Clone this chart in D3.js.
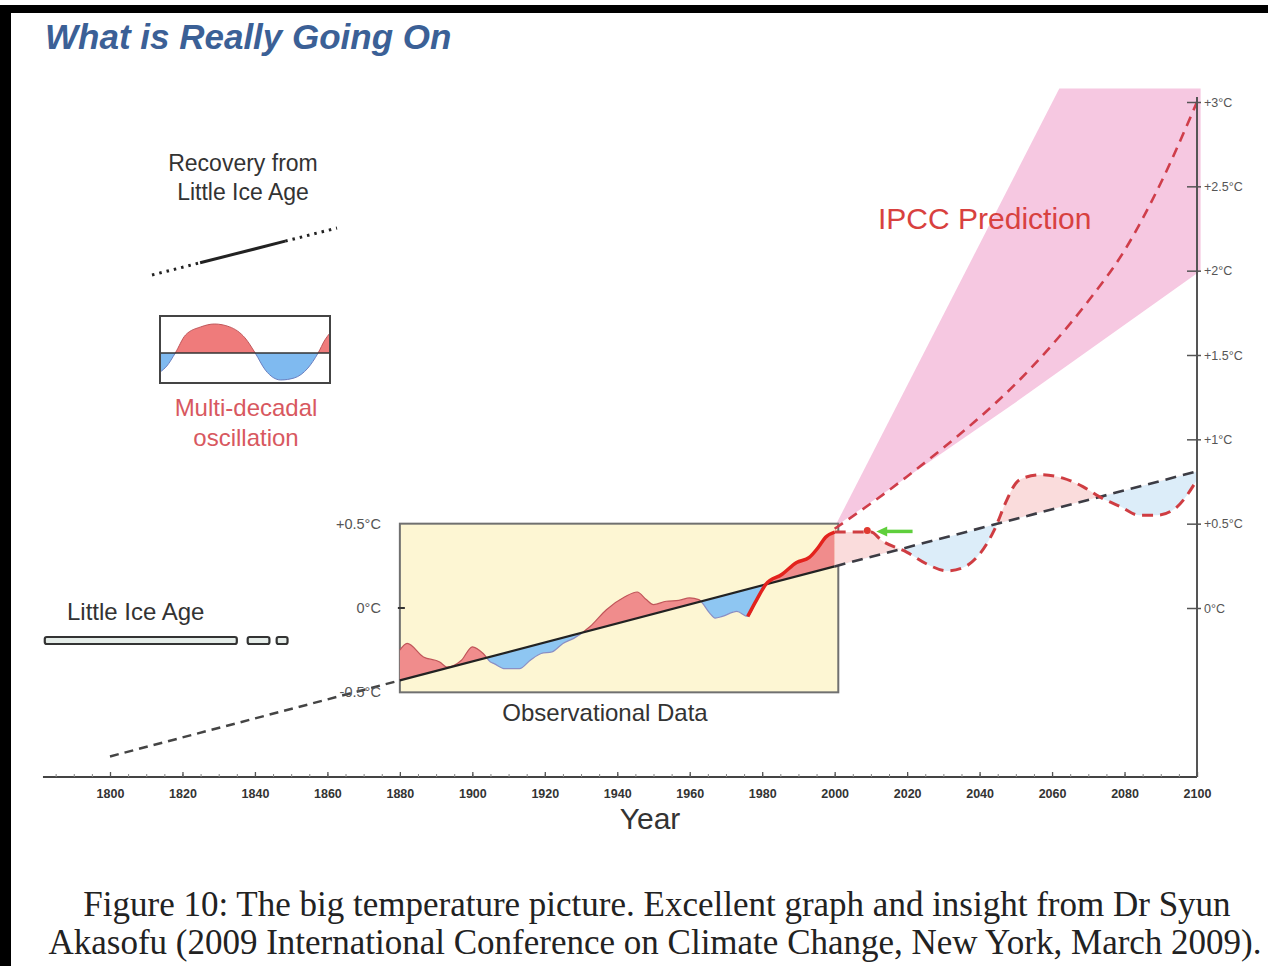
<!DOCTYPE html>
<html><head><meta charset="utf-8">
<script src="https://cdn.jsdelivr.net/npm/d3@7"></script>
<style>body{margin:0;background:#fff} svg{display:block}</style>
</head><body><svg id="c" width="1268" height="966"></svg>
<script>
// ---------------- DATA ----------------
const xTickYears = [1800,1820,1840,1860,1880,1900,1920,1940,1960,1980,2000,2020,2040,2060,2080,2100];
const rightTickValues = [0,0.5,1,1.5,2,2.5,3];
const rightTickLabels = ["0°C","+0.5°C","+1°C","+1.5°C","+2°C","+2.5°C","+3°C"];
const insetTickValues = [-0.5,0,0.5];
const insetTickLabels = ["-0.5°C","0°C","+0.5°C"];

// linear "recovery from Little Ice Age" trend
const trendYears = [1800, 2100];
const trendValues = [-0.88, 0.81];

// observational data (deg C)
const obsYears = [1880,1882,1886.5,1891,1893,1897,1900,1903,1905,1906,1909,1913,1916,1919,1922,1925,1928,1932.5,1937,1942,1945.5,1948,1950,1953.5,1957,1960,1962.5,1965.5,1967,1969,1973,1976,1978.5,1981,1985.5,1989.5,1993,1995.5,1997.5,2000];
const obsValues = [-0.25,-0.21,-0.29,-0.32,-0.35,-0.31,-0.23,-0.27,-0.32,-0.33,-0.36,-0.36,-0.31,-0.27,-0.26,-0.21,-0.18,-0.11,-0.01,0.065,0.095,0.05,0.02,0.04,0.045,0.06,0.05,-0.03,-0.06,-0.05,-0.02,-0.05,0.05,0.14,0.20,0.27,0.30,0.36,0.42,0.45];
const recentFromYear = 1975.5;
const latestObsYear = 2009;
const latestObsValue = 0.46;

// multi-decadal oscillation projection
const fcYears = [2000,2005,2010,2013,2020,2025.5,2031,2035.5,2040,2044,2047.5,2050,2052,2057,2063,2068.5,2073,2079,2084,2089,2094.5,2100];
const fcValues = [0.45,0.45,0.45,0.40,0.33,0.26,0.22,0.24,0.32,0.46,0.64,0.74,0.77,0.79,0.77,0.72,0.66,0.60,0.55,0.55,0.60,0.76];

// IPCC prediction
const ipccMidYears = [2000,2010,2020,2030,2040,2050,2060,2070,2080,2090,2100];
const ipccMidValues = [0.47,0.62,0.78,0.95,1.13,1.33,1.56,1.82,2.12,2.52,3.0];
const ipccUpperYears = [2000,2062,2101];
const ipccUpperValues = [0.48,3.08,3.08];
const ipccLowerYears = [2000,2050,2101];
const ipccLowerValues = [0.48,1.22,2.0];

// Little Ice Age bars (years)
const liaStarts = [1782,1838,1846];
const liaEnds = [1835,1844,1849];

// multi-decadal oscillation legend icon (normalised)
const oscX = [0,0.04,0.09,0.15,0.24,0.32,0.41,0.5,0.56,0.62,0.71,0.79,0.87,0.93,0.97,1];
const oscV = [-0.66,-0.45,0,0.62,0.9,1.0,0.9,0.52,0,-0.59,-0.93,-0.86,-0.52,0,0.45,0.69];

// ---------------- DRAW ----------------
const SANS = "Liberation Sans, Arial, sans-serif";
const svg = d3.select("#c");
const x = d3.scaleLinear().domain([1800,2100]).range([110,1197]);
const y = d3.scaleLinear().domain([0,3]).range([608,102]);
const trendAt = d3.scaleLinear().domain(trendYears).range(trendValues);

const obs = obsYears.map((yr,i)=>({yr, v:obsValues[i]}));
const fc = fcYears.map((yr,i)=>({yr, v:fcValues[i]}));
const zip = (a,b)=>a.map((yr,i)=>({yr, v:b[i]}));

// frame
svg.append("rect").attr("x",0).attr("y",0).attr("width",1268).attr("height",966).attr("fill","#fff");
svg.append("rect").attr("x",0).attr("y",5).attr("width",1268).attr("height",8).attr("fill","#000");
svg.append("rect").attr("x",0).attr("y",5).attr("width",11).attr("height",961).attr("fill","#000");

// title
svg.append("text").attr("x",45).attr("y",49).text("What is Really Going On")
  .attr("font-family",SANS).attr("font-weight","bold").attr("font-style","italic")
  .attr("font-size",35).attr("fill","#3b6096");

// clip paths above / below trend
const defs = svg.append("defs");
const tl = x(1770), tr = x(2110);
defs.append("clipPath").attr("id","above").append("path")
  .attr("d",`M${tl},${y(trendAt(1770))}L${tr},${y(trendAt(2110))}L${tr},0L${tl},0Z`);
defs.append("clipPath").attr("id","below").append("path")
  .attr("d",`M${tl},${y(trendAt(1770))}L${tr},${y(trendAt(2110))}L${tr},966L${tl},966Z`);

// IPCC band
const band = ipccUpperYears.map((yr,i)=>[x(yr), y(ipccUpperValues[i])]);
const lowPts = ipccLowerYears.map((yr,i)=>[x(yr), y(ipccLowerValues[i])]).reverse();
svg.append("path").attr("d", d3.line()(band.concat(lowPts))+"Z").attr("fill","#f6c8e1");

// observational box
svg.append("rect").attr("x",x(1880)).attr("y",y(0.5))
  .attr("width",x(2001)-x(1880)).attr("height",y(-0.5)-y(0.5))
  .attr("fill","#fdf6d3").attr("stroke","#707070").attr("stroke-width",2);

// deviation areas
const dev = d3.area().x(d=>x(d.yr)).y0(d=>y(trendAt(d.yr))).y1(d=>y(d.v)).curve(d3.curveMonotoneX);
const devLine = d3.line().x(d=>x(d.yr)).y(d=>y(d.v)).curve(d3.curveMonotoneX);
svg.append("path").attr("d",dev(obs)).attr("fill","#f08c8c").attr("clip-path","url(#above)");
svg.append("path").attr("d",dev(obs)).attr("fill","#8ec6f2").attr("clip-path","url(#below)");
svg.append("path").attr("d",devLine(obs)).attr("fill","none").attr("stroke","#c0565a").attr("stroke-width",1.2).attr("clip-path","url(#above)");
svg.append("path").attr("d",devLine(obs)).attr("fill","none").attr("stroke","#8a8fc4").attr("stroke-width",1.2).attr("clip-path","url(#below)");

// forecast areas
svg.append("path").attr("d",dev(fc)).attr("fill","#fadcdc").attr("clip-path","url(#above)");
svg.append("path").attr("d",dev(fc)).attr("fill","#dcedf9").attr("clip-path","url(#below)");

// trend line
const tline = d3.line().x(d=>x(d.yr)).y(d=>y(d.v));
const tpts = (a,b)=>[{yr:a,v:trendAt(a)},{yr:b,v:trendAt(b)}];
svg.append("path").attr("d",tline(tpts(1800,1880))).attr("stroke","#444").attr("stroke-width",2.5).attr("stroke-dasharray","9,6").attr("fill","none");
svg.append("path").attr("d",tline(tpts(1880,2000))).attr("stroke","#222").attr("stroke-width",2.2).attr("fill","none");
svg.append("path").attr("d",tline(tpts(2000,2100))).attr("stroke","#3c3c44").attr("stroke-width",2.6).attr("stroke-dasharray","11,7").attr("fill","none");

// recent observed (thick red)
svg.append("path").attr("d",devLine(obs.filter(d=>d.yr>=recentFromYear))).attr("fill","none").attr("stroke","#e3231d").attr("stroke-width",3.5);

// forecast dashed
svg.append("path").attr("d",devLine(fc)).attr("fill","none").attr("stroke","#cf3d42").attr("stroke-width",3).attr("stroke-dasharray","11,7");

// IPCC mid dashed
svg.append("path").attr("d",d3.line().x(d=>x(d.yr)).y(d=>y(d.v)).curve(d3.curveMonotoneX)(zip(ipccMidYears,ipccMidValues)))
  .attr("fill","none").attr("stroke","#cf3d4a").attr("stroke-width",2.6).attr("stroke-dasharray","10,7");

// latest obs marker + green arrow
svg.append("circle").attr("cx",x(latestObsYear)).attr("cy",y(latestObsValue)).attr("r",3.5).attr("fill","#e03a30");
const ay = y(latestObsValue)+1;
svg.append("line").attr("x1",x(latestObsYear+4)).attr("x2",x(latestObsYear+12.5)).attr("y1",ay).attr("y2",ay)
  .attr("stroke","#5fcf3c").attr("stroke-width",3.5);
svg.append("path").attr("d",`M${x(latestObsYear+2.5)},${ay}L${x(latestObsYear+5.5)},${ay-5}L${x(latestObsYear+5.5)},${ay+5}Z`).attr("fill","#5fcf3c");

// bottom axis
const axY = 777;
svg.append("line").attr("x1",x(1781.5)).attr("x2",x(2100)).attr("y1",axY).attr("y2",axY).attr("stroke","#444").attr("stroke-width",2.2);
const minor = svg.append("g").attr("transform",`translate(0,${axY})`)
  .call(d3.axisBottom(x).tickValues(d3.range(1785,2100,5)).tickSize(-3).tickFormat(""));
minor.select(".domain").remove();
minor.selectAll("line").attr("stroke","#888");
const major = svg.append("g").attr("transform",`translate(0,${axY})`)
  .call(d3.axisBottom(x).tickValues(xTickYears).tickSize(-5).tickPadding(12).tickFormat(d3.format("d")));
major.select(".domain").remove();
major.selectAll("line").attr("stroke","#555").attr("stroke-width",1.3);
major.selectAll("text").attr("font-family",SANS).attr("font-size",12.5).attr("font-weight","bold").attr("fill","#333");
svg.append("text").attr("x",650).attr("y",829).attr("text-anchor","middle").text("Year")
  .attr("font-family",SANS).attr("font-size",30).attr("fill","#333");

// right axis
const ax = x(2100);
svg.append("line").attr("x1",ax).attr("x2",ax).attr("y1",97).attr("y2",axY).attr("stroke","#555").attr("stroke-width",2);
const ra = svg.append("g").attr("transform",`translate(${ax},0)`)
  .call(d3.axisRight(y).tickValues(rightTickValues).tickSize(4).tickPadding(3).tickFormat((d,i)=>rightTickLabels[i]));
ra.select(".domain").remove();
ra.selectAll("line").attr("stroke","#555").attr("stroke-width",1.5).attr("x1",-10);
ra.selectAll("text").attr("font-family",SANS).attr("font-size",12.5).attr("fill","#555");

// inset left axis
const ia = svg.append("g").attr("transform",`translate(${x(1880)},0)`)
  .call(d3.axisLeft(y).tickValues(insetTickValues).tickSize(0).tickPadding(19).tickFormat((d,i)=>insetTickLabels[i]));
ia.select(".domain").remove();
ia.selectAll("text").attr("font-family",SANS).attr("font-size",14.5).attr("fill","#555");
svg.append("line").attr("x1",x(1880)-2).attr("x2",x(1880)+5).attr("y1",y(0)).attr("y2",y(0)).attr("stroke","#333").attr("stroke-width",2);
svg.append("text").attr("x",605).attr("y",721).attr("text-anchor","middle").text("Observational Data")
  .attr("font-family",SANS).attr("font-size",24).attr("fill","#333");

// IPCC label
svg.append("text").attr("x",878).attr("y",229).text("IPCC Prediction")
  .attr("font-family",SANS).attr("font-size",30).attr("fill","#d8413f");

// Little Ice Age
svg.append("text").attr("x",67).attr("y",620).text("Little Ice Age")
  .attr("font-family",SANS).attr("font-size",24).attr("fill","#333");
liaStarts.forEach((s,i)=>{
  svg.append("rect").attr("x",x(s)).attr("y",637).attr("width",x(liaEnds[i])-x(s)).attr("height",7).attr("rx",2)
    .attr("fill","#e4ece8").attr("stroke","#333").attr("stroke-width",2.2);
});

// Recovery legend
const lg = svg.append("g").attr("font-family",SANS).attr("font-size",23).attr("fill","#333").attr("text-anchor","middle");
lg.append("text").attr("x",243).attr("y",171).text("Recovery from");
lg.append("text").attr("x",243).attr("y",200).text("Little  Ice Age");
const lx = d3.scaleLinear().domain([0,1]).range([152,337]);
const ly = d3.scaleLinear().domain([0,1]).range([275,228]);
[[0,0.26,"2.5,5",3],[0.26,0.72,null,3],[0.72,1,"2.5,5",3]].forEach(s=>{
  const l = svg.append("line").attr("x1",lx(s[0])).attr("y1",ly(s[0])).attr("x2",lx(s[1])).attr("y2",ly(s[1]))
    .attr("stroke","#222").attr("stroke-width",s[3]);
  if(s[2]) l.attr("stroke-dasharray",s[2]);
});

// oscillation icon
const ox = d3.scaleLinear().domain([0,1]).range([160,330]);
const oy = d3.scaleLinear().domain([-1,1]).range([382,324]);
const osc = oscX.map((t,i)=>({t, v:oscV[i]}));
defs.append("clipPath").attr("id","oscUp").append("rect").attr("x",160).attr("y",316).attr("width",170).attr("height",oy(0)-316);
defs.append("clipPath").attr("id","oscDn").append("rect").attr("x",160).attr("y",oy(0)).attr("width",170).attr("height",383-oy(0));
const oa = d3.area().x(d=>ox(d.t)).y0(oy(0)).y1(d=>oy(d.v)).curve(d3.curveMonotoneX);
const ol = d3.line().x(d=>ox(d.t)).y(d=>oy(d.v)).curve(d3.curveMonotoneX);
svg.append("rect").attr("x",160).attr("y",316).attr("width",170).attr("height",67).attr("fill","#fff");
svg.append("path").attr("d",oa(osc)).attr("fill","#ef7b7b").attr("clip-path","url(#oscUp)");
svg.append("path").attr("d",oa(osc)).attr("fill","#7fbaf0").attr("clip-path","url(#oscDn)");
svg.append("path").attr("d",ol(osc)).attr("fill","none").attr("stroke","#c0565a").attr("stroke-width",1).attr("clip-path","url(#oscUp)");
svg.append("path").attr("d",ol(osc)).attr("fill","none").attr("stroke","#6a7fc0").attr("stroke-width",1).attr("clip-path","url(#oscDn)");
svg.append("line").attr("x1",160).attr("x2",330).attr("y1",oy(0)).attr("y2",oy(0)).attr("stroke","#333").attr("stroke-width",1.5);
svg.append("rect").attr("x",160).attr("y",316).attr("width",170).attr("height",67).attr("fill","none").attr("stroke","#444").attr("stroke-width",2);
const mg = svg.append("g").attr("font-family",SANS).attr("font-size",24).attr("fill","#d85860").attr("text-anchor","middle");
mg.append("text").attr("x",246).attr("y",416).text("Multi-decadal");
mg.append("text").attr("x",246).attr("y",446).text("oscillation");

// caption
const cg = svg.append("g").attr("font-family","Liberation Serif, Times New Roman, serif").attr("font-size",35).attr("fill","#222").attr("text-anchor","middle");
cg.append("text").attr("x",657).attr("y",916).text("Figure 10: The big temperature picture. Excellent graph and insight from Dr Syun");
cg.append("text").attr("x",655).attr("y",954).text("Akasofu (2009 International Conference on Climate Change, New York, March 2009).");
</script></body></html>
